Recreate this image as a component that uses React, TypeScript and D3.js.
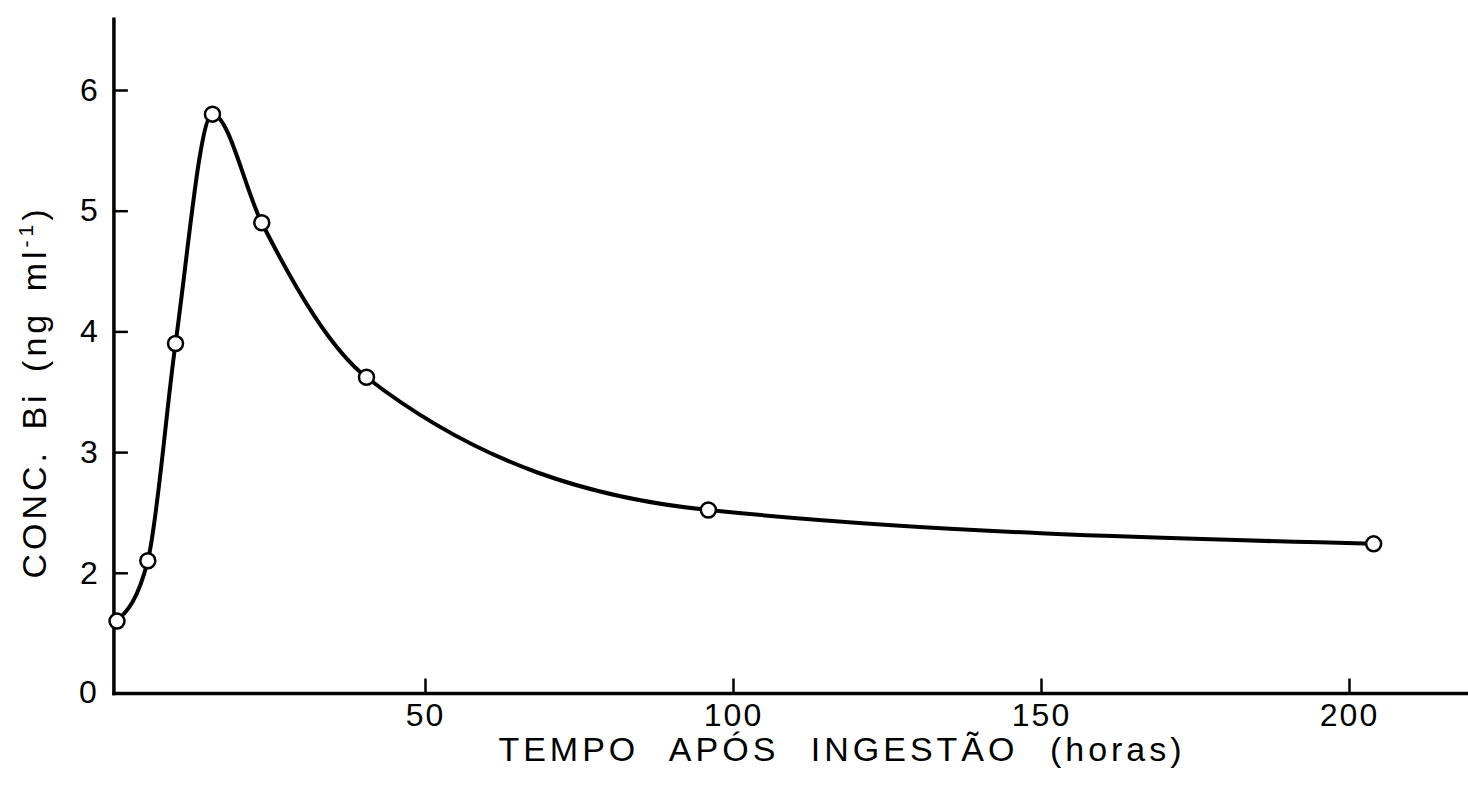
import React, { useRef, useEffect } from 'react';
import * as d3 from 'd3';

// hours after ingestion and Bi concentration (ng/ml)
const hours = [0, 5, 9.5, 15.5, 23.5, 40.5, 96, 204];
const conc = [1.6, 2.1, 3.9, 5.8, 4.9, 3.62, 2.52, 2.24];
const xTicks = [50, 100, 150, 200];
const yTicks = [2, 3, 4, 5, 6];
const originLabel = '0';
const xTitle = 'TEMPO APÓS INGESTÃO (horas)';
const yTitle = 'CONC. Bi (ng ml';
const yTitleSup = '-1';

const App = () => {
    const chart = useRef<SVGSVGElement>(null);

    useEffect(() => {
        const width = 1468;
        const height = 785;
        const font = '"Liberation Sans", Arial, sans-serif';

        const svg = d3.select(chart.current);
        svg.selectAll('*').remove();
        svg.attr('width', width).attr('height', height);

        const x = d3.scaleLinear().domain([0, 200]).range([117, 1349]);
        const y = d3.scaleLinear().domain([1, 6]).range([693.5, 90]);
        const axisX = x(-0.5);

        // axis lines
        svg.append('line')
            .attr('x1', axisX).attr('x2', axisX)
            .attr('y1', y(1) + 1.75).attr('y2', y(6.6))
            .attr('stroke', '#000').attr('stroke-width', 3.5);
        svg.append('line')
            .attr('x1', axisX - 1.75).attr('x2', width)
            .attr('y1', y(1)).attr('y2', y(1))
            .attr('stroke', '#000').attr('stroke-width', 3.5);

        const yAxis = d3.axisLeft(y).tickValues(yTicks).tickSize(-14).tickPadding(16).tickFormat(d3.format('d'));
        const gy = svg.append('g')
            .attr('transform', `translate(${axisX},0)`)
            .call(yAxis);
        gy.select('.domain').remove();
        gy.attr('font-family', font).attr('font-size', 32);
        gy.selectAll('line').attr('stroke', '#000').attr('stroke-width', 2.5);
        gy.selectAll('text').attr('fill', '#000');

        const xAxis = d3.axisBottom(x).tickValues(xTicks).tickSize(-15).tickPadding(10).tickFormat(d3.format('d'));
        const gx = svg.append('g')
            .attr('transform', `translate(0,${y(1)})`)
            .call(xAxis);
        gx.select('.domain').remove();
        gx.attr('font-family', font).attr('font-size', 32);
        gx.selectAll('line').attr('stroke', '#000').attr('stroke-width', 2.5);
        gx.selectAll('text').attr('fill', '#000').attr('letter-spacing', 2);

        svg.append('text')
            .attr('x', axisX - 26).attr('y', y(1) + 9)
            .attr('text-anchor', 'middle')
            .attr('font-family', font).attr('font-size', 32)
            .text(originLabel);

        // curve
        const data = hours.map((h, i) => ({ h, c: conc[i] }));
        const line = d3.line<{ h: number; c: number }>()
            .x(d => x(d.h))
            .y(d => y(d.c))
            .curve(d3.curveMonotoneX);
        svg.append('path')
            .datum(data)
            .attr('d', line)
            .attr('fill', 'none')
            .attr('stroke', '#000')
            .attr('stroke-width', 4);

        svg.selectAll('.pt')
            .data(data)
            .enter()
            .append('circle')
            .attr('cx', d => x(d.h))
            .attr('cy', d => y(d.c))
            .attr('r', 7.5)
            .attr('fill', '#fff')
            .attr('stroke', '#000')
            .attr('stroke-width', 2.5);

        // titles
        svg.append('text')
            .attr('x', 842).attr('y', 761)
            .attr('text-anchor', 'middle')
            .attr('font-family', font).attr('font-size', 34)
            .attr('letter-spacing', 4).attr('word-spacing', 18)
            .text(xTitle);

        const yt = svg.append('text')
            .attr('transform', 'translate(46,392) rotate(-90)')
            .attr('text-anchor', 'middle')
            .attr('font-family', font).attr('font-size', 34)
            .attr('letter-spacing', 4).attr('word-spacing', 6);
        yt.append('tspan').text(yTitle);
        yt.append('tspan').attr('font-size', 21).attr('dy', -13).text(yTitleSup);
        yt.append('tspan').attr('dy', 13).text(')');
    }, []);

    return (
        <svg ref={chart} style={{ position: 'absolute', left: 0, top: 0, background: '#fff' }}></svg>
    );
};

export default App;
